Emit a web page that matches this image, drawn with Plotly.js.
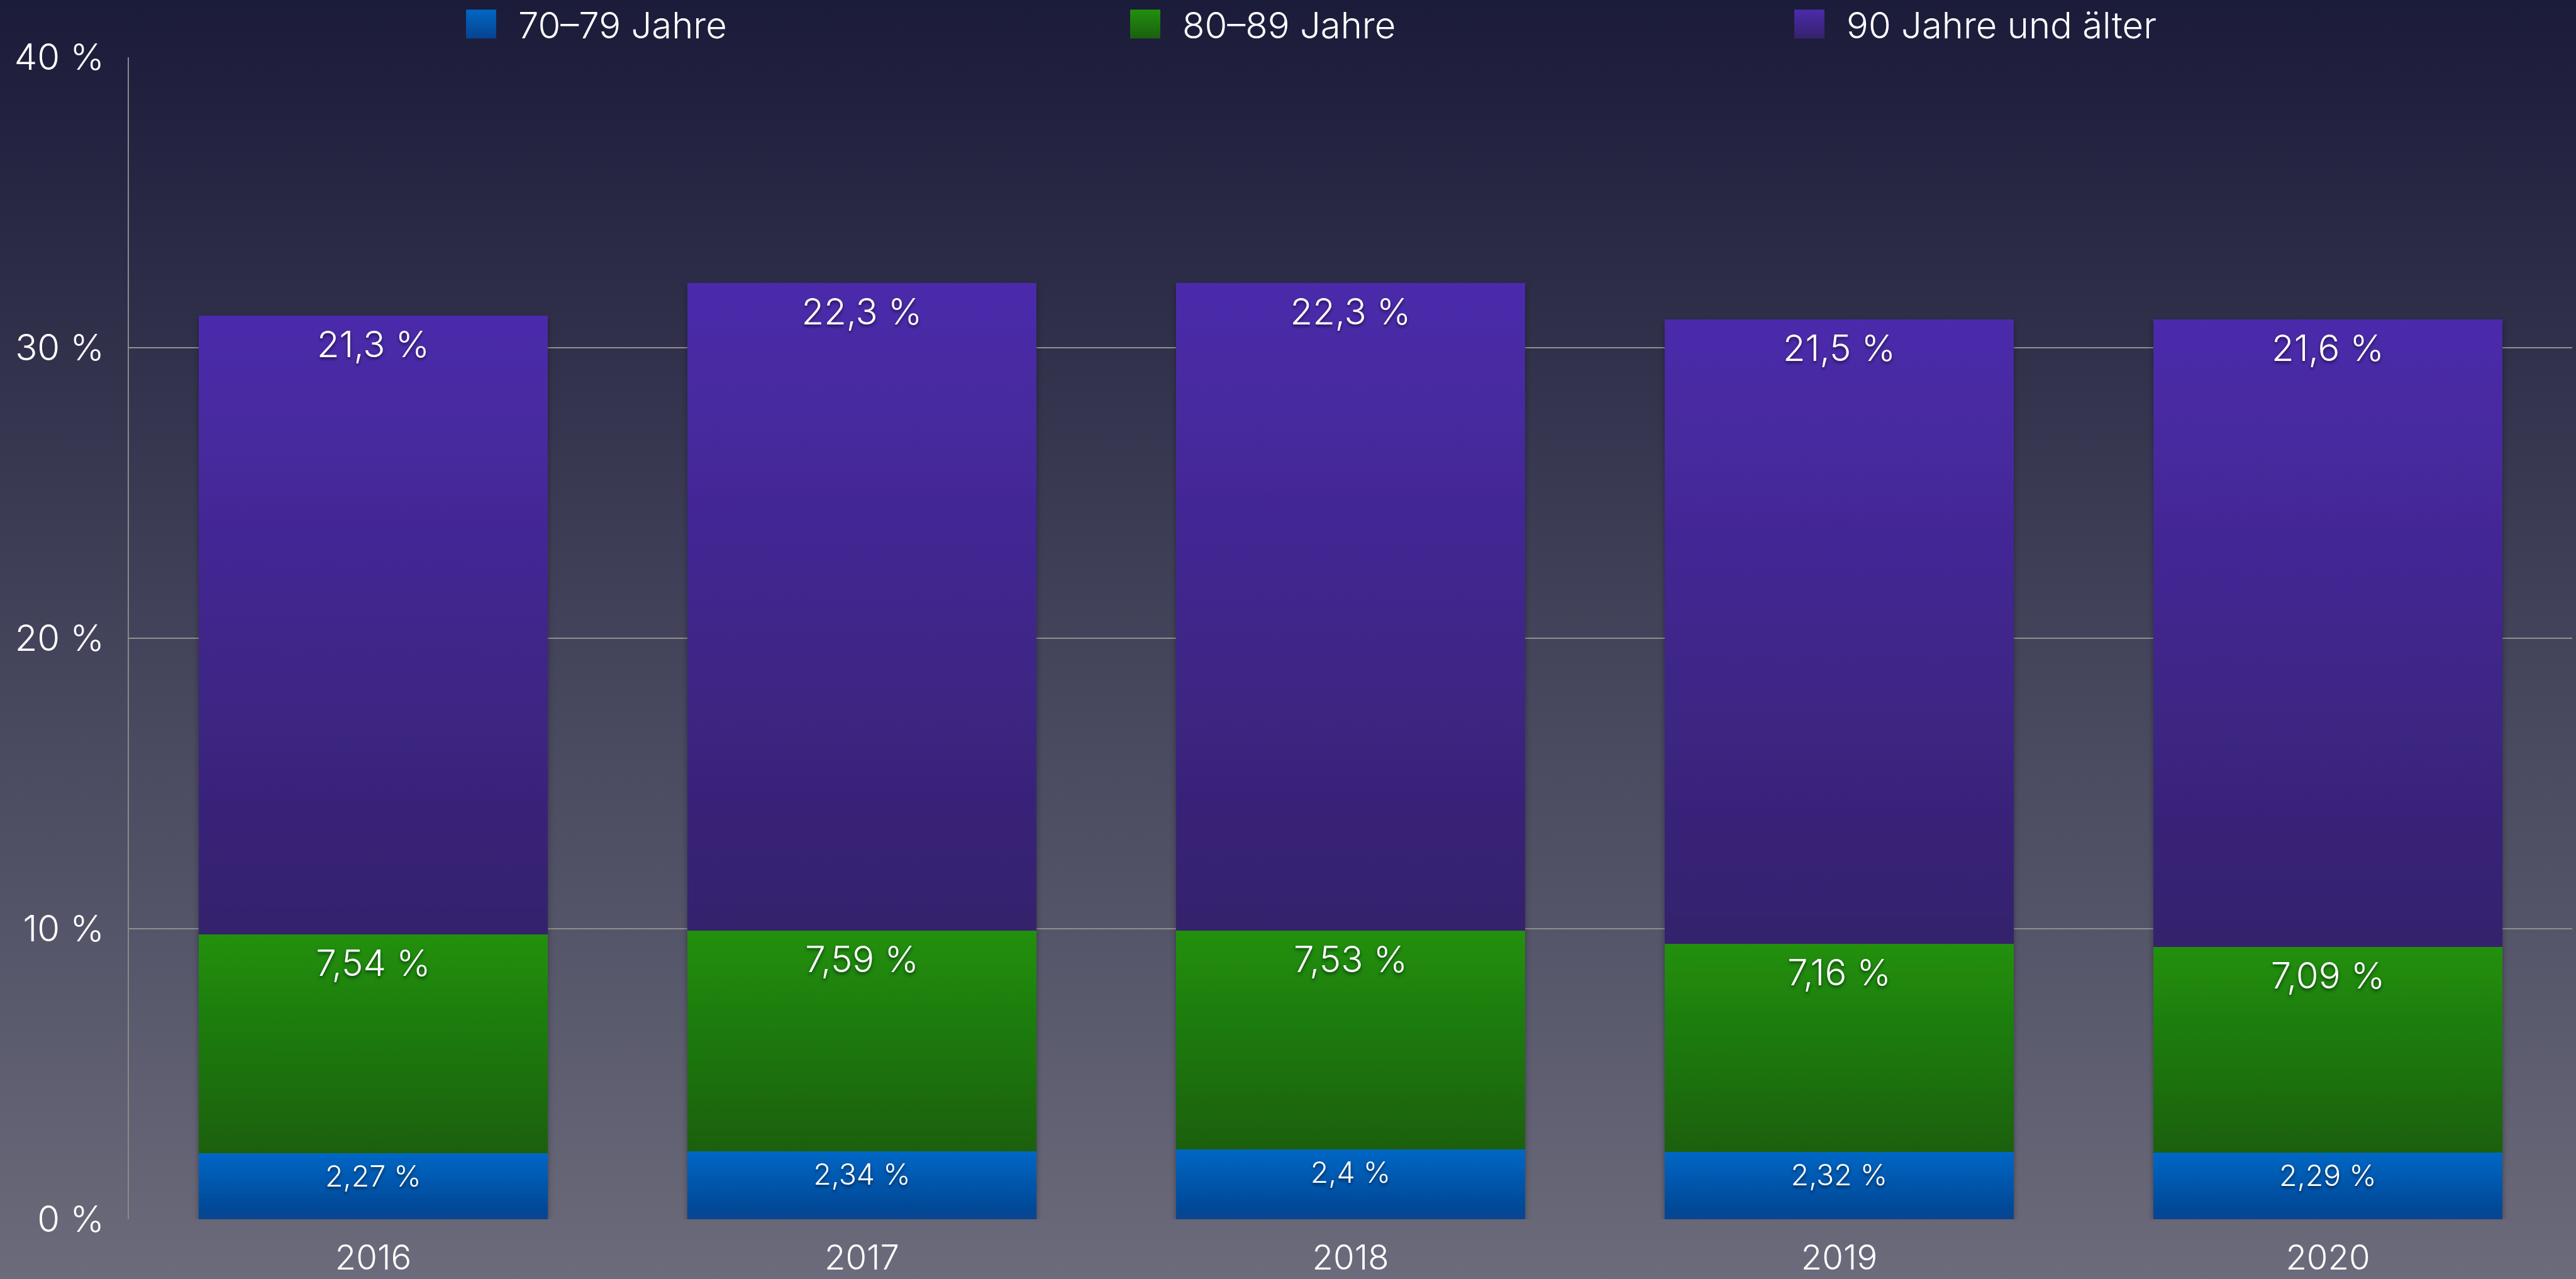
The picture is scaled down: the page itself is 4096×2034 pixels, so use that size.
<!DOCTYPE html>
<html>
<head>
<meta charset="utf-8">
<script src="https://cdn.plot.ly/plotly-3.0.1.min.js"></script>
<style>
  html, body { margin: 0; padding: 0; }
  body { width: 4096px; height: 2034px; overflow: hidden;
         background: linear-gradient(to bottom, #1b1b3a 0%, #6b6b7b 100%); }
  #chart { width: 4096px; height: 2034px; }
</style>
</head>
<body>
<div id="chart"></div>
<script>
// ---- data ----
const years = ['2016', '2017', '2018', '2019', '2020'];
const seriesNames = ['70–79 Jahre', '80–89 Jahre', '90 Jahre und älter'];
const values7079 = [2.27, 2.34, 2.4, 2.32, 2.29];
const values8089 = [7.54, 7.59, 7.53, 7.16, 7.09];
const values90 = [21.3, 22.3, 22.3, 21.5, 21.6];
const yTickValues = [0, 10, 20, 30, 40];
const yTickLabels = ['0 %', '10 %', '20 %', '30 %', '40 %'];

// ---- styles ----
const FONT = 'Inter, Roboto, "Liberation Sans", sans-serif';
const gradColors = [
  ['#0067c5', '#07438f'],
  ['#21900e', '#1b600f'],
  ['#4b2bab', '#34226c']
];
const midColors = ['#0556aa', '#1e7810', '#402690'];

function fmt(v) { return String(v).replace('.', ',') + ' %'; }

const seriesValues = [values7079, values8089, values90];
const labelSizes = [46.5, 58, 58];
const labelShift = [5, 7, 7];

const data = seriesValues.map(function (vals, i) {
  return {
    type: 'bar',
    name: seriesNames[i],
    x: years,
    y: vals,
    text: vals.map(fmt),
    textposition: 'inside',
    insidetextanchor: 'end',
    textangle: 0,
    constraintext: 'none',
    textfont: { family: FONT, size: labelSizes[i], color: '#ffffff', weight: 300,
                shadow: '0px 3px 5px rgba(0,0,0,0.55)' },
    marker: { color: midColors[i], line: { width: 0 } },
    hoverinfo: 'skip'
  };
});

const layout = {
  width: 4096,
  height: 2034,
  margin: { l: 205, r: 6, t: 91, b: 95, pad: 0, autoexpand: false },
  paper_bgcolor: 'rgba(0,0,0,0)',
  plot_bgcolor: 'rgba(0,0,0,0)',
  barmode: 'stack',
  bargap: 0.285,
  font: { family: FONT, color: '#ffffff', weight: 300 },
  showlegend: true,
  legend: {
    orientation: 'h',
    traceorder: 'normal',
    xref: 'container', yref: 'container',
    x: 706 / 4096, xanchor: 'left',
    y: 1 - 38.5 / 2034, yanchor: 'middle',
    font: { family: FONT, size: 58, color: '#ffffff', weight: 300 },
    itemwidth: 108,
    entrywidth: 933,
    entrywidthmode: 'pixels',
    bgcolor: 'rgba(0,0,0,0)',
    borderwidth: 0
  },
  xaxis: {
    type: 'category',
    showgrid: false,
    showline: false,
    zeroline: false,
    ticks: '',
    ticklabelstandoff: 24,
    tickfont: { family: FONT, size: 54.5, color: '#ffffff', weight: 300 }
  },
  yaxis: {
    range: [0, 40],
    tickmode: 'array',
    tickvals: yTickValues,
    ticktext: yTickLabels,
    showgrid: true,
    gridcolor: '#909090',
    gridwidth: 2.4,
    zeroline: false,
    showline: true,
    linecolor: '#8a8a8a',
    linewidth: 1.6,
    ticks: '',
    ticklabelstandoff: 26,
    tickfont: { family: FONT, size: 58, color: '#ffffff', weight: 300 }
  }
};

const gd = document.getElementById('chart');
Plotly.newPlot(gd, data, layout, { staticPlot: true, displayModeBar: false }).then(function () {
  const NS = 'http://www.w3.org/2000/svg';
  const svg = gd.querySelector('svg.main-svg');
  let defs = svg.querySelector('defs');
  if (!defs) { defs = document.createElementNS(NS, 'defs'); svg.insertBefore(defs, svg.firstChild); }
  gradColors.forEach(function (c, i) {
    const lg = document.createElementNS(NS, 'linearGradient');
    lg.setAttribute('id', 'bargrad' + i);
    lg.setAttribute('x1', '0'); lg.setAttribute('y1', '0');
    lg.setAttribute('x2', '0'); lg.setAttribute('y2', '1');
    [[0, c[0]], [1, c[1]]].forEach(function (s) {
      const st = document.createElementNS(NS, 'stop');
      st.setAttribute('offset', s[0]);
      st.setAttribute('stop-color', s[1]);
      lg.appendChild(st);
    });
    defs.appendChild(lg);
  });
  const f = document.createElementNS(NS, 'filter');
  f.setAttribute('id', 'barshadow');
  f.setAttribute('x', '-5%'); f.setAttribute('y', '-5%');
  f.setAttribute('width', '110%'); f.setAttribute('height', '115%');
  const ds = document.createElementNS(NS, 'feDropShadow');
  ds.setAttribute('dx', '0'); ds.setAttribute('dy', '4');
  ds.setAttribute('stdDeviation', '5');
  ds.setAttribute('flood-color', '#000000');
  ds.setAttribute('flood-opacity', '0.35');
  f.appendChild(ds);
  defs.appendChild(f);

  gd.querySelectorAll('.barlayer .trace').forEach(function (t, i) {
    t.querySelectorAll('.point path').forEach(function (p) {
      p.style.fill = 'url(#bargrad' + i + ')';
    });
    t.querySelectorAll('.point text').forEach(function (tx) {
      const tr = tx.getAttribute('transform') || '';
      tx.setAttribute('transform', 'translate(0,' + labelShift[i] + ') ' + tr);
    });
  });
  const bl = gd.querySelector('.barlayer');
  if (bl) bl.setAttribute('filter', 'url(#barshadow)');

  gd.querySelectorAll('.legend .traces').forEach(function (t) {
    const txt = t.querySelector('.legendtext');
    const i = seriesNames.indexOf(txt ? txt.textContent : '');
    const p = t.querySelector('.legendpoints path');
    if (p && i >= 0) {
      p.setAttribute('d', 'M24,23H-24V-23H24Z');
      p.style.fill = 'url(#bargrad' + i + ')';
    }
  });
});
</script>
</body>
</html>
